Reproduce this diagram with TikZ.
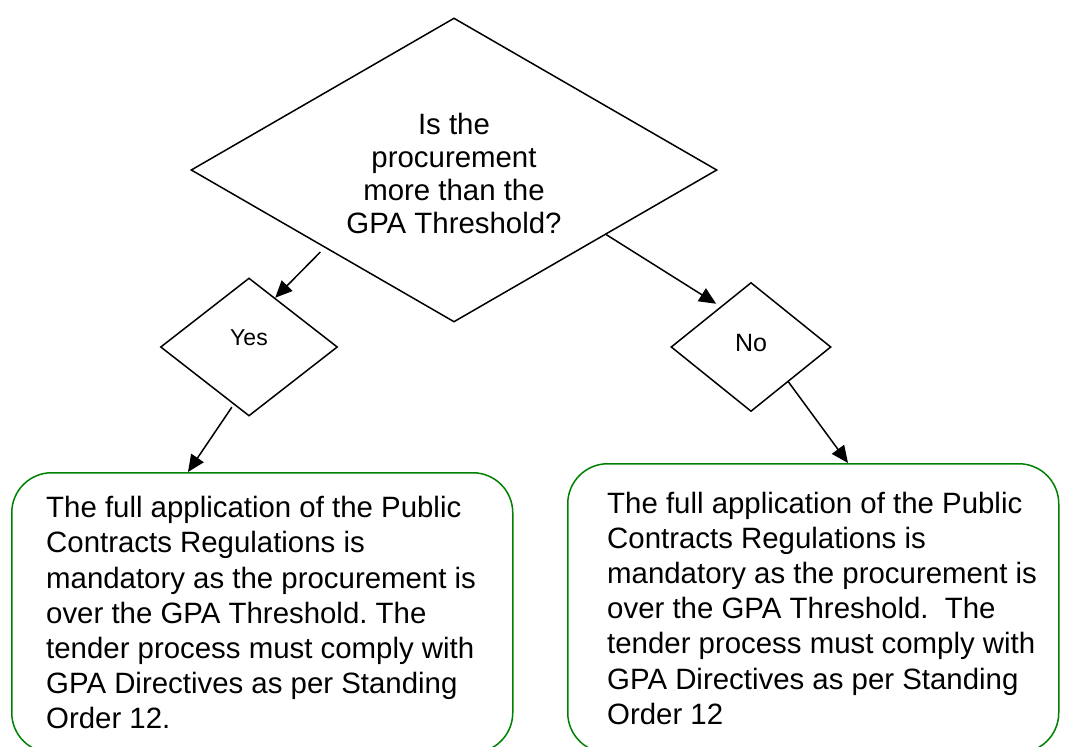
\documentclass[tikz,border=0pt]{standalone}
\usepackage{fontspec}
\setmainfont{Liberation Sans}
\usetikzlibrary{positioning}
\usetikzlibrary{arrows.meta}
\usetikzlibrary{shapes.geometric}
\definecolor{boxgreen}{RGB}{0,128,0}
\frenchspacing
\tikzset{
    decision/.style = {
        draw, diamond, inner sep=0pt, line width=1.5pt, align=center
    },
    outcome/.style = {
        draw=boxgreen, rectangle, rounded corners=40pt, line width=1.5pt, anchor=north west
    },
    outtext/.style = {
        align=left, inner sep=0pt, font=\fontsize{29.4}{35.2}\selectfont
    },
}

\begin{document}
\begin{tikzpicture}[x=1pt, y=-1pt]
        \useasboundingbox (0,0) rectangle (1066,747);

        % Place the decisions
        \node[decision, minimum width=526pt, minimum height=304pt, aspect=1.73,
              font=\fontsize{29.4}{33}\selectfont] (q) at (454,170)
              {\rule{0pt}{29pt}Is the\\procurement\\more than the\\GPA Threshold?};
        \node[decision, minimum width=177pt, minimum height=138pt, text depth=18pt,
              font=\fontsize{23}{27}\selectfont] (yes) at (249,347) {Yes};
        \node[decision, minimum width=160pt, minimum height=129pt, text depth=8pt,
              font=\fontsize{25}{30}\selectfont] (no) at (751,347) {No};

        % Place the outcomes
        \node[outcome, minimum width=501pt, minimum height=280pt] (yesbox) at (11,472) {};
        \node[outcome, minimum width=491pt, minimum height=289pt] (nobox) at (567,463) {};
        \node[outtext, right=35pt of yesbox.west] (yestext)
              {The full application of the Public\\Contracts Regulations is\\mandatory as the procurement is\\over the GPA Threshold. The\\tender process must comply with\\GPA Directives as per Standing\\Order 12.};
        \node[outtext, right=40pt of nobox.west] (notext)
              {The full application of the Public\\Contracts Regulations is\\mandatory as the procurement is\\over the GPA Threshold.\ \ The\\tender process must comply with\\GPA Directives as per Standing\\Order 12};

        % Draw connections
        \begin{scope}[line width=1.5pt, >={Triangle[width=15pt,length=17pt]}]
            \draw[->, shorten <=6pt] (q.211) -- (yes.62);
            \draw[->, shorten >=5pt] (q.337) -- (no.127);
            \draw[->, shorten <=3pt] (yes.255) -- ([xshift=177pt]yesbox.north west);
            \draw[->] (no.317) -- ([xshift=281pt]nobox.north west);
        \end{scope}
    \end{tikzpicture}
\end{document}
